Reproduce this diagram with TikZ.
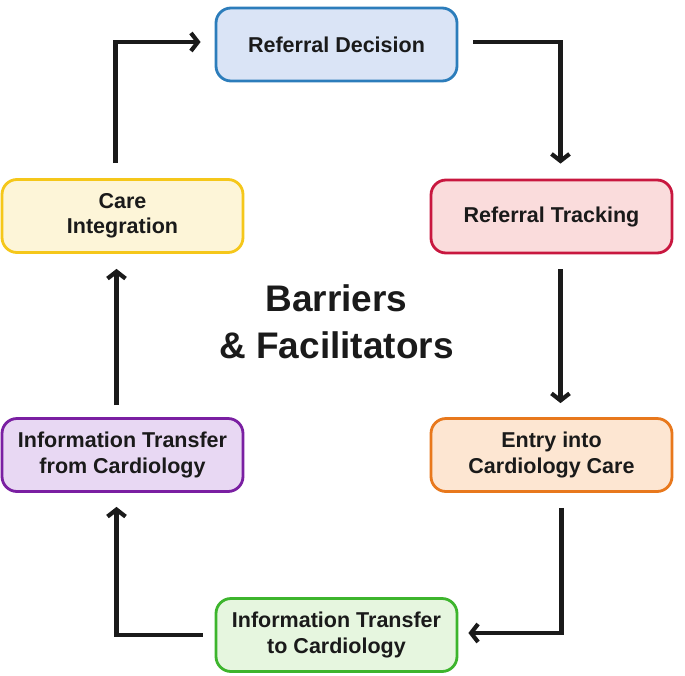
\documentclass[tikz,border=0pt]{standalone}
\usepackage{fontspec}
\setmainfont{Liberation Sans}
\usetikzlibrary{arrows.meta}
\definecolor{txt}{HTML}{1A1A1A}
\definecolor{rdfill}{HTML}{DAE4F6}\definecolor{rddraw}{HTML}{2C7DBB}
\definecolor{rtfill}{HTML}{FADCDC}\definecolor{rtdraw}{HTML}{C8173F}
\definecolor{ecfill}{HTML}{FDE6D2}\definecolor{ecdraw}{HTML}{E8781C}
\definecolor{itfill}{HTML}{E6F6DF}\definecolor{itdraw}{HTML}{3DB52D}
\definecolor{iffill}{HTML}{E8D8F3}\definecolor{ifdraw}{HTML}{7A1FA2}
\definecolor{cifill}{HTML}{FDF5D8}\definecolor{cidraw}{HTML}{F5C71A}
\tikzset{
  stage/.style={draw, line width=2.8pt, rounded corners=15pt, minimum width=241pt,
    minimum height=73pt, align=center, text=txt,
    font=\fontsize{21.5}{25.5}\selectfont\bfseries},
  arr/.style={draw=txt, line width=4.2pt,
    -{Straight Barb[length=7pt,width=18pt]}}
}
\begin{document}
\begin{tikzpicture}[x=1pt,y=-1pt]
\useasboundingbox (0,0) rectangle (685,675);
\node[stage, fill=rdfill, draw=rddraw] (rd) at (336.5,44.5) {Referral Decision};
\node[stage, fill=rtfill, draw=rtdraw] (rt) at (551.5,216.5) {Referral Tracking};
\node[stage, fill=ecfill, draw=ecdraw] (ec) at (551.5,455) {Entry into\\Cardiology Care};
\node[stage, fill=itfill, draw=itdraw] (it) at (336.5,635) {Information Transfer\\to Cardiology};
\node[stage, fill=iffill, draw=ifdraw] (if) at (122.5,455) {Information Transfer\\from Cardiology};
\node[stage, fill=cifill, draw=cidraw] (ci) at (122.5,216) {Care\\Integration};
\node[align=center, text=txt, font=\fontsize{37}{47}\selectfont\bfseries] (center) at (336.5,322) {Barriers\\\& Facilitators};
\draw[arr] ([xshift=-7pt,yshift=15pt]ci.north) |- ([xshift=-14pt,yshift=2.5pt]rd.west);
\draw[arr] ([xshift=15pt,yshift=2.5pt]rd.east) -| ([xshift=9pt,yshift=15pt]rt.north);
\draw[arr] ([xshift=9pt,yshift=-15pt]rt.south) -- ([xshift=9pt,yshift=14pt]ec.north);
\draw[arr] ([xshift=10pt,yshift=-15pt]ec.south) |- ([xshift=10pt,yshift=2pt]it.east);
\draw[arr] ([xshift=-12pt]it.west) -| ([xshift=-6pt,yshift=-14pt]if.south);
\draw[arr] ([xshift=-6pt,yshift=12pt]if.north) -- ([xshift=-6pt,yshift=-15pt]ci.south);
\end{tikzpicture}
\end{document}
